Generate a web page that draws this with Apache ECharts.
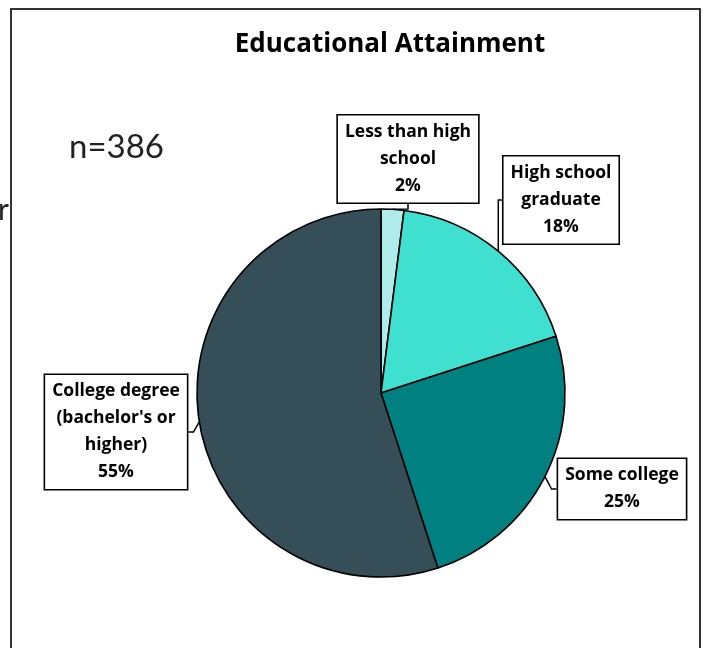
<!DOCTYPE html>
<html>
<head>
<meta charset="utf-8">
<script src="https://cdn.jsdelivr.net/npm/echarts@6/dist/echarts.min.js"></script>
<style>
html,body{margin:0;padding:0;background:#fff;}
#chart{width:703px;height:648px;}
</style>
</head>
<body>
<div id="chart"></div>
<script>
// ---- data ----
const categories = ["Less than high\nschool", "High school\ngraduate", "Some college", "College degree\n(bachelor's or\nhigher)"];
const values = [2, 18, 25, 55];
const colors = ["#b0ecec", "#40e0d0", "#008080", "#354e57"];
const titleText = "Educational Attainment";
const sampleText = "n=386";

// ---- label box centres (layout only) ----
const labelCenters = [[408, 159], [561, 200], [622, 489], [116, 432]];

const chart = echarts.init(document.getElementById('chart'));
const FONT = '"Open Sans", Lato, sans-serif';

chart.setOption({
  animation: false,
  backgroundColor: '#ffffff',
  title: {
    text: titleText,
    left: 385,
    textAlign: 'center',
    top: 27,
    textStyle: { fontFamily: FONT, fontWeight: 'bold', fontSize: 26, color: '#000' }
  },
  graphic: [
    { type: 'rect', shape: { x: 11, y: 9, width: 689, height: 660 },
      style: { fill: 'none', stroke: '#333', lineWidth: 2 }, silent: true, z: 0 },
    { type: 'text', x: 69, y: 147,
      style: { text: sampleText, fontFamily: 'Lato, sans-serif', fontSize: 33, fill: '#222', textVerticalAlign: 'middle' } },
    { type: 'text', x: 9, y: 210,
      style: { text: 'r', fontFamily: 'Lato, sans-serif', fontSize: 30, fill: '#222', textAlign: 'right', textVerticalAlign: 'middle' } }
  ],
  series: [{
    type: 'pie',
    center: [381, 393],
    radius: 184,
    startAngle: 90,
    clockwise: true,
    avoidLabelOverlap: false,
    data: categories.map((c, i) => ({ name: c, value: values[i], itemStyle: { color: colors[i] } })),
    itemStyle: { borderColor: '#000', borderWidth: 1.6 },
    emphasis: { disabled: true },
    label: {
      show: true,
      formatter: p => p.name + '\n' + Math.round(p.percent) + '%',
      fontFamily: FONT,
      fontWeight: 'bold',
      fontSize: 17.5,
      lineHeight: 27,
      color: '#000',
      align: 'center',
      backgroundColor: '#fff',
      borderColor: '#000',
      borderWidth: 1.6,
      padding: [3, 7, 3, 7]
    },
    labelLine: { show: true, length: 5, length2: 5, lineStyle: { color: '#000', width: 1.5 } },
    labelLayout: function (params) {
      const c = labelCenters[params.dataIndex];
      return { x: c[0], y: c[1], align: 'center', verticalAlign: 'middle' };
    }
  }]
});
</script>
</body>
</html>
